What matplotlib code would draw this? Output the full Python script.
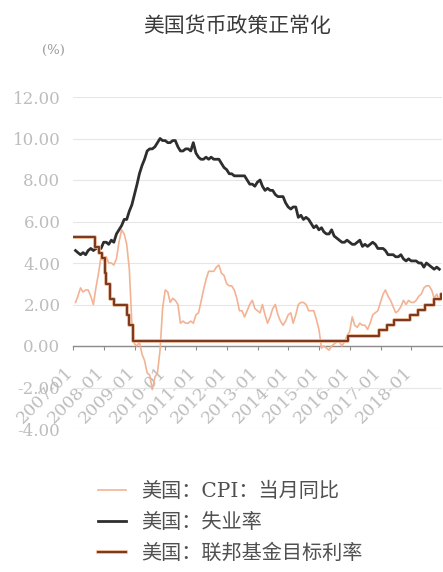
import matplotlib
matplotlib.use("Agg")
import matplotlib.pyplot as plt
import matplotlib.patheffects as pe
import matplotlib.transforms as mtransforms
import pandas as pd

plt.rcParams['font.family'] = ['DejaVu Serif', 'Noto Sans CJK SC', 'DejaVu Sans']
plt.rcParams['axes.unicode_minus'] = False

# Monthly data, 2007-01 onward (month-end dates)
cpi_yoy = [
    2.1, 2.4, 2.8, 2.6, 2.7, 2.7, 2.4, 2.0, 2.8, 3.5, 4.3, 4.1,
    4.3, 4.0, 4.0, 3.9, 4.2, 5.0, 5.6, 5.4, 4.9, 3.7, 1.1, 0.1,
    0.0, 0.2, -0.4, -0.7, -1.3, -1.4, -2.1, -1.5, -1.3, -0.2, 1.8, 2.7,
    2.6, 2.1, 2.3, 2.2, 2.0, 1.1, 1.2, 1.1, 1.1, 1.2, 1.1, 1.5,
    1.6, 2.1, 2.7, 3.2, 3.6, 3.6, 3.6, 3.8, 3.9, 3.5, 3.4, 3.0,
    2.9, 2.9, 2.7, 2.3, 1.7, 1.7, 1.4, 1.7, 2.0, 2.2, 1.8, 1.7,
    1.6, 2.0, 1.5, 1.1, 1.4, 1.8, 2.0, 1.5, 1.2, 1.0, 1.2, 1.5,
    1.6, 1.1, 1.5, 2.0, 2.1, 2.1, 2.0, 1.7, 1.7, 1.7, 1.3, 0.8,
    -0.1, 0.0, -0.1, -0.2, 0.0, 0.1, 0.2, 0.2, 0.0, 0.2, 0.5, 0.7,
    1.4, 1.0, 0.9, 1.1, 1.0, 1.0, 0.8, 1.1, 1.5, 1.6, 1.7, 2.1,
    2.5, 2.7, 2.4, 2.2, 1.9, 1.6, 1.7, 1.9, 2.2, 2.0, 2.2, 2.1,
    2.1, 2.2, 2.4, 2.5, 2.8, 2.9, 2.9, 2.7, 2.3, 2.5, 2.2,
]

unemployment = [
    4.6, 4.5, 4.4, 4.5, 4.4, 4.6, 4.7, 4.6, 4.7, 4.7, 4.7, 5.0,
    5.0, 4.9, 5.1, 5.0, 5.4, 5.6, 5.8, 6.1, 6.1, 6.5, 6.8, 7.3,
    7.8, 8.3, 8.7, 9.0, 9.4, 9.5, 9.5, 9.6, 9.8, 10.0, 9.9, 9.9,
    9.8, 9.8, 9.9, 9.9, 9.6, 9.4, 9.4, 9.5, 9.5, 9.4, 9.8, 9.3,
    9.1, 9.0, 9.0, 9.1, 9.0, 9.1, 9.0, 9.0, 9.0, 8.8, 8.6, 8.5,
    8.3, 8.3, 8.2, 8.2, 8.2, 8.2, 8.2, 8.0, 7.8, 7.8, 7.7, 7.9,
    8.0, 7.7, 7.5, 7.6, 7.5, 7.5, 7.3, 7.2, 7.2, 7.2, 6.9, 6.7,
    6.6, 6.7, 6.7, 6.2, 6.3, 6.1, 6.2, 6.1, 5.9, 5.7, 5.8, 5.6,
    5.7, 5.5, 5.4, 5.4, 5.6, 5.3, 5.2, 5.1, 5.0, 5.0, 5.1, 5.0,
    4.9, 4.9, 5.0, 5.1, 4.8, 4.9, 4.8, 4.9, 5.0, 4.9, 4.7, 4.7,
    4.7, 4.6, 4.4, 4.4, 4.4, 4.3, 4.3, 4.4, 4.2, 4.1, 4.2, 4.1,
    4.1, 4.1, 4.0, 4.0, 3.8, 4.0, 3.9, 3.8, 3.7, 3.8, 3.7,
]

# Federal funds target rate (upper bound), by decision date
fed_dates = [
    "2007-01-01", "2007-09-18", "2007-10-31", "2007-12-11", "2008-01-22",
    "2008-01-30", "2008-03-18", "2008-04-30", "2008-10-08", "2008-10-29",
    "2008-12-16", "2015-12-16", "2016-12-14", "2017-03-15", "2017-06-14",
    "2017-12-13", "2018-03-21", "2018-06-13", "2018-09-26", "2018-12-19",
    "2018-12-31",
]
fed_rate = [
    5.25, 4.75, 4.50, 4.25, 3.50,
    3.00, 2.25, 2.00, 1.50, 1.00,
    0.25, 0.50, 0.75, 1.00, 1.25,
    1.50, 1.75, 2.00, 2.25, 2.50,
    2.50,
]

title = "美国货币政策正常化"
labels = ["美国：CPI：当月同比", "美国：失业率", "美国：联邦基金目标利率"]
y_ticks = [-4, -2, 0, 2, 4, 6, 8, 10, 12]
x_years = list(range(2007, 2019))

cpi_idx = pd.date_range("2007-01-31", periods=len(cpi_yoy), freq="ME")
unemp_idx = pd.date_range("2007-01-31", periods=len(unemployment), freq="ME")
fed_idx = pd.to_datetime(fed_dates)

fig = plt.figure(figsize=(4.43, 5.72), dpi=100)
ax = fig.add_axes([73 / 443, 1 - 429 / 572, 369 / 443, (429 - 97) / 572])

ax.plot(cpi_idx, cpi_yoy, color="#f2b394", lw=1.2, label=labels[0], zorder=3)
ax.plot(unemp_idx, unemployment, color="#2e2e2e", lw=2.0, label=labels[1], zorder=4)
ax.plot(fed_idx, fed_rate, color="#7c3a22", lw=1.5, drawstyle="steps-post",
        label=labels[2], zorder=5,
        path_effects=[pe.Stroke(linewidth=2.6, foreground="#eeb48c"), pe.Normal()])

ax.set_ylim(-4, 12)
ax.set_xlim(pd.Timestamp("2007-01-01"), pd.Timestamp("2019-01-01"))
ax.set_yticks(y_ticks)
ax.set_yticklabels([f"{v:.2f}" for v in y_ticks])
ax.yaxis.grid(True, color="#e6e6e6", lw=0.8)
ax.set_axisbelow(True)

for s in ["top", "right", "left"]:
    ax.spines[s].set_visible(False)
ax.spines["bottom"].set_position(("data", 0))
ax.spines["bottom"].set_color("#8c8c8c")
ax.spines["bottom"].set_linewidth(1.0)

xt = [pd.Timestamp(f"{y}-01-01") for y in x_years]
ax.set_xticks(xt)
ax.set_xticklabels([f"{y}-01" for y in x_years])
ax.tick_params(axis="x", direction="out", length=3, width=0.8, color="#8c8c8c",
               labelsize=12.5, labelcolor="#bdbdbd", pad=10)
shift = mtransforms.ScaledTranslation(4 / 100, 0, fig.dpi_scale_trans)
for lab in ax.get_xticklabels():
    lab.set_rotation(45)
    lab.set_ha("right")
    lab.set_va("top")
    lab.set_transform(lab.get_transform() + shift)
ax.tick_params(axis="y", length=0, labelsize=12, labelcolor="#bdbdbd", pad=9)

fig.text(53 / 443, 1 - 50 / 572, "(%)", ha="center", va="center",
         fontsize=9.5, color="#9a9a9a")
fig.text(237 / 443, 1 - 26 / 572, title, ha="center", va="center",
         fontsize=15, color="#3a3a3a", family=["Noto Sans CJK SC"])

leg = fig.legend(loc="upper left", bbox_to_anchor=(98 / 443, 1 - 482 / 572),
                 frameon=False, fontsize=14.5, handlelength=1.4,
                 handletextpad=0.72, labelspacing=0.58, borderpad=0,
                 borderaxespad=0)
for t in leg.get_texts():
    t.set_color("#505050")

fig.savefig("out.png", dpi=100)
